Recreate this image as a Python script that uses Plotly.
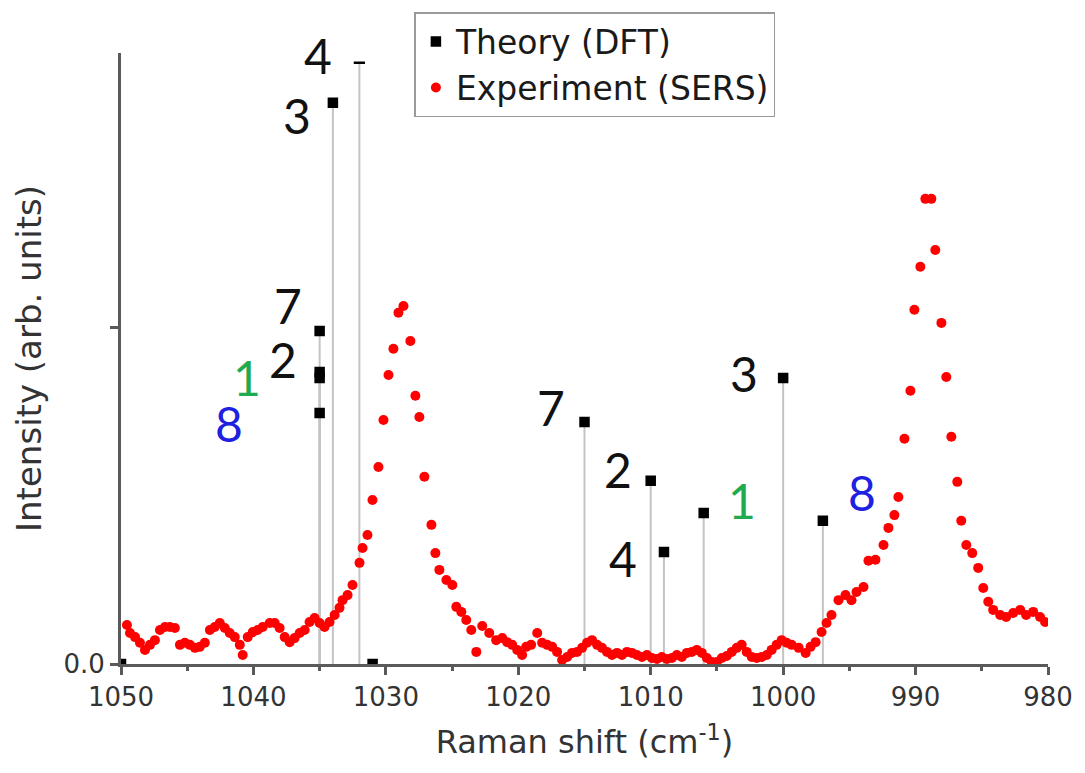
import plotly.graph_objects as go

# ---------------- data ----------------
# Experimental SERS spectrum (Raman shift in cm^-1, intensity arb. units)
exp_shift = [
    1049.55, 1049.32, 1048.94, 1048.57, 1048.19, 1047.81, 1047.44, 1047.06, 1046.68, 1046.31,
    1045.93, 1045.55, 1045.18, 1044.80, 1044.42, 1044.05, 1043.67, 1043.29, 1042.92, 1042.54,
    1042.16, 1041.79, 1041.41, 1041.03, 1040.81, 1040.43, 1040.05, 1039.68, 1039.30, 1038.77,
    1038.39, 1038.02, 1037.64, 1037.26, 1036.89, 1036.51, 1036.13, 1035.76, 1035.38, 1035.00,
    1034.63, 1034.25, 1033.87, 1033.50, 1033.27, 1032.89, 1032.52, 1031.99, 1031.76, 1031.39,
    1031.01, 1030.56, 1030.18, 1029.80, 1029.43, 1029.05, 1028.67, 1028.15, 1027.77, 1027.47,
    1027.09, 1026.56, 1026.26, 1025.96, 1025.43, 1024.98, 1024.68, 1024.30, 1023.93, 1023.55,
    1023.17, 1022.72, 1022.19, 1021.67, 1021.21, 1020.84, 1020.46, 1020.08, 1019.71, 1019.40,
    1019.03, 1018.57, 1018.20, 1017.82, 1017.44, 1017.07, 1016.69, 1016.31, 1015.94, 1015.56,
    1015.18, 1014.81, 1014.43, 1014.05, 1013.68, 1013.30, 1012.92, 1012.55, 1012.17, 1011.79,
    1011.42, 1011.04, 1010.66, 1010.29, 1009.91, 1009.53, 1009.16, 1008.78, 1008.40, 1008.03,
    1007.65, 1007.27, 1006.90, 1006.52, 1006.14, 1005.76, 1005.39, 1005.01, 1004.63, 1004.26,
    1003.88, 1003.50, 1003.13, 1002.75, 1002.37, 1002.00, 1001.62, 1001.24, 1000.87, 1000.49,
    1000.11, 999.74, 999.36, 998.83, 998.30, 997.93, 997.55, 997.10, 996.72, 996.35,
    995.82, 995.29, 994.84, 994.46, 993.93, 993.56, 993.03, 992.42, 992.05, 991.60,
    991.30, 990.84, 990.39, 990.09, 989.64, 989.26, 988.81, 988.51, 988.05, 987.68,
    987.30, 986.85, 986.55, 986.17, 985.72, 985.27, 984.89, 984.51, 984.14, 983.61,
    983.16, 982.63, 982.10, 981.65, 981.12, 980.60, 980.22,
]
exp_intensity = [
    0.116, 0.092, 0.080, 0.063, 0.042, 0.057, 0.071, 0.101, 0.110, 0.110,
    0.107, 0.057, 0.063, 0.057, 0.048, 0.051, 0.063, 0.101, 0.110, 0.122,
    0.107, 0.092, 0.080, 0.057, 0.027, 0.080, 0.095, 0.101, 0.110, 0.122,
    0.122, 0.107, 0.080, 0.065, 0.077, 0.092, 0.101, 0.125, 0.137, 0.122,
    0.110, 0.125, 0.146, 0.167, 0.190, 0.205, 0.235, 0.301, 0.345, 0.384,
    0.488, 0.586, 0.726, 0.860, 0.938, 1.045, 1.065, 0.961, 0.798, 0.735,
    0.557, 0.414, 0.330, 0.280, 0.250, 0.235, 0.170, 0.155, 0.131, 0.101,
    0.036, 0.113, 0.092, 0.071, 0.077, 0.065, 0.057, 0.042, 0.027, 0.051,
    0.057, 0.092, 0.063, 0.057, 0.051, 0.036, 0.012, 0.021, 0.033, 0.036,
    0.048, 0.063, 0.071, 0.057, 0.048, 0.036, 0.027, 0.033, 0.027, 0.036,
    0.033, 0.027, 0.021, 0.027, 0.018, 0.015, 0.021, 0.015, 0.018, 0.027,
    0.021, 0.033, 0.036, 0.042, 0.033, 0.018, 0.006, 0.006, 0.018, 0.024,
    0.036, 0.048, 0.057, 0.036, 0.021, 0.018, 0.021, 0.027, 0.042, 0.057,
    0.071, 0.063, 0.057, 0.048, 0.033, 0.051, 0.065, 0.095, 0.122, 0.146,
    0.190, 0.205, 0.190, 0.214, 0.229, 0.307, 0.310, 0.354, 0.405, 0.443,
    0.497, 0.670, 0.813, 1.054, 1.182, 1.384, 1.384, 1.232, 1.015, 0.854,
    0.676, 0.542, 0.426, 0.354, 0.330, 0.286, 0.226, 0.185, 0.161, 0.146,
    0.140, 0.152, 0.161, 0.146, 0.155, 0.140, 0.125,
]

# DFT (theory) modes
theory_shift = [1050.0, 1031.0, 1035.0, 1035.0, 1035.0, 1035.0, 1034.0, 1032.0,
                1015.0, 1010.0, 1009.0, 1006.0, 1000.0, 997.0]
theory_intensity = [0.0, 0.0, 0.991, 0.869, 0.851, 0.747, 1.670, 1.789,
                    0.720, 0.545, 0.333, 0.449, 0.851, 0.426]
theory_mode = ["", "", "7", "2", "1", "8", "3", "4",
               "7", "2", "4", "1", "3", "8"]

x_ticks = [1050, 1040, 1030, 1020, 1010, 1000, 990, 980]
y_ticks = [0.0]
y_tick_labels = ["0.0"]
y_unlabeled_ticks = [1.0]

# ---------------- styles / layout helpers ----------------
mode_color = {"1": "#1faa4f", "8": "#2020e0"}
# label offsets (pixels) relative to the theory marker
label_offsets = [None, None, (-32, 25), (-37, 12), (-73, 0), (-91, -11), (-36, -13), (-41, 7),
                 (-34, 15), (-33, 11), (-41, -6), (38, 13), (-39, 4), (39, 28)]
marker_symbols = ["square"] * len(theory_shift)
marker_symbols[theory_mode.index("4")] = "line-ew"

AXIS = "#5a5a5a"
TXT = "#333333"

fig = go.Figure()

# sticks for theory
stick_x, stick_y = [], []
for sx, sy in zip(theory_shift, theory_intensity):
    stick_x += [sx, sx, None]
    stick_y += [0, sy, None]
fig.add_trace(go.Scatter(x=stick_x, y=stick_y, mode="lines",
                         line=dict(color="#c4c4c4", width=2),
                         showlegend=False, hoverinfo="skip"))

fig.add_trace(go.Scatter(x=exp_shift, y=exp_intensity, mode="markers",
                         name="Experiment (SERS)", legendrank=2,
                         marker=dict(color="#ff0000", size=10, symbol="circle")))

fig.add_trace(go.Scatter(x=theory_shift, y=theory_intensity, mode="markers",
                         name="Theory (DFT)", legendrank=1,
                         marker=dict(color="#000000", size=8, symbol=marker_symbols,
                                     line=dict(color="#000000", width=2.5))))

annotations = []
for sx, sy, lab, off in zip(theory_shift, theory_intensity, theory_mode, label_offsets):
    if not lab:
        continue
    annotations.append(dict(x=sx, y=sy, xref="x", yref="y", text=lab, showarrow=False,
                            xshift=off[0], yshift=off[1],
                            font=dict(family="Lato", size=48, color=mode_color.get(lab, "#111111"))))

fig.update_layout(
    width=1085, height=773,
    margin=dict(l=121, r=35, t=53, b=109),
    paper_bgcolor="white", plot_bgcolor="white",
    annotations=annotations,
    showlegend=True,
    legend=dict(x=0.3165, y=1.067, xanchor="left", yanchor="top",
                bgcolor="white", bordercolor="#9a9a9a", borderwidth=1.5,
                font=dict(family="DejaVu Sans", size=33, color="#1a1a1a"),
                tracegroupgap=0, itemwidth=30),
    xaxis=dict(range=[1050, 980], tickmode="array", tickvals=x_ticks,
               ticktext=[str(v) for v in x_ticks],
               ticks="outside", ticklen=8, tickwidth=2.5, tickcolor=AXIS,
               minor=dict(ticks="outside", ticklen=4, tickwidth=2.5, tickcolor=AXIS,
                          tickmode="linear", tick0=980, dtick=5),
               showline=True, linecolor=AXIS, linewidth=3, showgrid=False, zeroline=False,
               tickfont=dict(family="DejaVu Sans", size=26, color=TXT),
               title=dict(text="Raman shift (cm<sup>-1</sup>)", standoff=20,
                          font=dict(family="DejaVu Sans", size=32, color=TXT))),
    yaxis=dict(range=[0, 1.818], tickmode="array", tickvals=y_ticks, ticktext=y_tick_labels,
               ticks="outside", ticklen=8, tickwidth=2.5, tickcolor=AXIS,
               minor=dict(ticks="outside", ticklen=8, tickwidth=2.5, tickcolor=AXIS,
                          tickmode="array", tickvals=y_unlabeled_ticks),
               showline=True, linecolor=AXIS, linewidth=3, showgrid=False, zeroline=False,
               tickfont=dict(family="DejaVu Sans", size=26, color=TXT),
               title=dict(text="Intensity (arb. units)", standoff=12,
                          font=dict(family="DejaVu Sans", size=34, color=TXT))),
)

fig.write_html("out.html")
